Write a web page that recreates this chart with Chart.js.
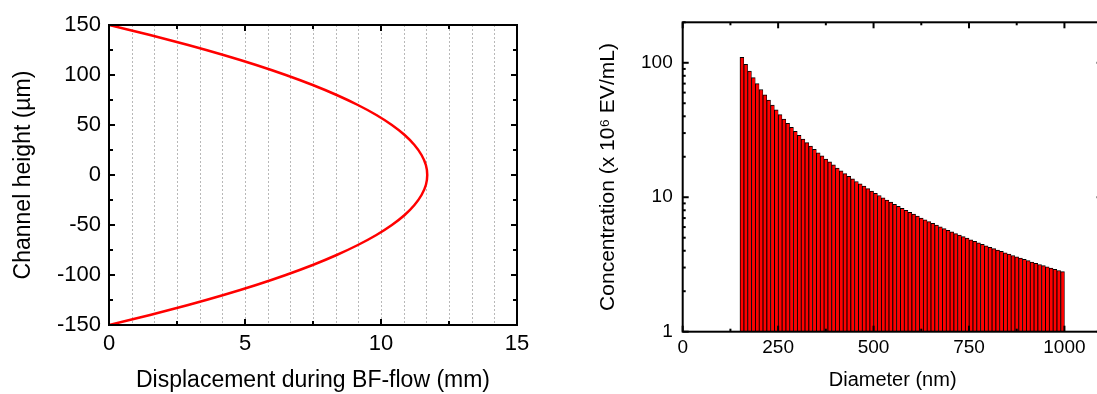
<!DOCTYPE html>
<html><head><meta charset="utf-8">
<script src="https://cdn.jsdelivr.net/npm/chart.js@4/dist/chart.umd.min.js"></script>
<style>
html,body{margin:0;padding:0;background:#fff;overflow:hidden;width:1097px;height:394px;position:relative;}
canvas{position:absolute;top:0;}
#c1{left:0}
#c2{left:560px}
</style></head><body>
<canvas id="c1" width="560" height="394"></canvas>
<canvas id="c2" width="560" height="394"></canvas>
<script>
// ---- Left chart data: flow profile ----
const channelHeight = [-150,-140,-130,-120,-110,-100,-90,-80,-70,-60,-50,-40,-30,-20,-10,0,10,20,30,40,50,60,70,80,90,100,110,120,130,140,150];
const displacement = [0,1.51,2.91,4.21,5.41,6.50,7.49,8.37,9.15,9.83,10.40,10.87,11.23,11.49,11.65,11.70,11.65,11.49,11.23,10.87,10.40,9.83,9.15,8.37,7.49,6.50,5.41,4.21,2.91,1.51,0];
const displacementTicks = [0,5,10,15];
const heightTicks = [-150,-100,-50,0,50,100,150];

// ---- Right chart data: size distribution ----
const diameterBins = [155,165,175,185,195,205,215,225,235,245,255,265,275,285,295,305,315,325,335,345,355,365,375,385,395,405,415,425,435,445,455,465,475,485,495,505,515,525,535,545,555,565,575,585,595,605,615,625,635,645,655,665,675,685,695,705,715,725,735,745,755,765,775,785,795,805,815,825,835,845,855,865,875,885,895,905,915,925,935,945,955,965,975,985,995];
const concentration = [110,97.2,86.6,77.6,69.9,63.3,57.7,52.7,48.4,44.6,
41.2,38.2,35.5,33.1,30.9,28.9,27.1,25.5,24.0,22.7,
21.4,20.3,19.2,18.3,17.4,16.5,15.7,15.0,14.3,13.7,
13.1,12.6,12.1,11.6,11.1,10.7,10.3,9.89,9.53,9.19,
8.86,8.56,8.27,7.99,7.73,7.48,7.24,7.01,6.79,6.59,
6.39,6.20,6.02,5.85,5.68,5.53,5.37,5.23,5.09,4.96,
4.83,4.70,4.58,4.47,4.36,4.25,4.15,4.05,3.96,3.86,
3.78,3.69,3.61,3.53,3.45,3.38,3.30,3.23,3.16,3.10,
3.04,2.97,2.91,2.85,2.80];
const diameterTicks = [0,250,500,750,1000];
const concentrationTicks = [1,10,100];

Chart.defaults.font.family = "'Liberation Sans', Arial, sans-serif";
Chart.defaults.color = '#000';

// Frame + inward ticks (Origin style)
const frameTicks = {
  id: 'frameTicks',
  beforeDatasetsDraw(chart, args, o) {
    if (!o.grid) return;
    const {ctx, chartArea: a, scales: {x}} = chart;
    ctx.save();
    ctx.strokeStyle = '#b8b8b8';
    ctx.lineWidth = 1;
    ctx.setLineDash([2, 2]);
    for (let i = 1; i < o.grid.count; i++) {
      const v = x.min + (x.max - x.min) * i / o.grid.count;
      const p = Math.round(x.getPixelForValue(v)) + 0.5;
      ctx.beginPath(); ctx.moveTo(p, a.top); ctx.lineTo(p, a.bottom); ctx.stroke();
    }
    ctx.restore();
  },
  afterDatasetsDraw(chart, args, o) {
    const {ctx, chartArea: a, scales: {x, y}} = chart;
    ctx.save();
    ctx.strokeStyle = '#000';
    ctx.lineWidth = o.lw;
    const line = (x1, y1, x2, y2) => { ctx.beginPath(); ctx.moveTo(x1, y1); ctx.lineTo(x2, y2); ctx.stroke(); };
    o.xTicks(x).forEach(([v, major]) => {
      const p = x.getPixelForValue(v);
      const L = major ? o.major : o.minor;
      line(p, a.bottom, p, a.bottom - L);
      line(p, a.top, p, a.top + L);
    });
    o.yTicks(y).forEach(([v, major]) => {
      const p = y.getPixelForValue(v);
      const L = major ? o.major : o.minor;
      line(a.left, p, a.left + L, p);
      line(a.right, p, a.right - L, p);
    });
    ctx.strokeRect(a.left, a.top, a.right - a.left, a.bottom - a.top);
    ctx.restore();
  }
};

// ---- Left chart ----
new Chart(document.getElementById('c1'), {
  type: 'scatter',
  data: {
    datasets: [{
      data: channelHeight.map((h, i) => ({x: displacement[i], y: h})),
      showLine: true,
      borderColor: '#ff0000',
      borderWidth: 2.5,
      pointRadius: 0,
      tension: 0.3,
      fill: false
    }]
  },
  plugins: [frameTicks],
  options: {
    responsive: false,
    animation: false,
    events: [],
    layout: {padding: {left: 0, right: 43, top: 25, bottom: 0}},
    plugins: {
      legend: {display: false},
      tooltip: {enabled: false},
      frameTicks: {
        lw: 2, major: 6, minor: 4,
        grid: {count: 18},
        xTicks: s => { const r = []; for (let v = s.min; v <= s.max + 1e-9; v += 2.5) r.push([v, Math.abs(v % 5) < 1e-9]); return r; },
        yTicks: s => { const r = []; for (let v = s.min; v <= s.max + 1e-9; v += 25) r.push([v, Math.abs(v % 50) < 1e-9]); return r; }
      }
    },
    scales: {
      x: {
        type: 'linear', min: 0, max: 15,
        afterBuildTicks: s => { s.ticks = displacementTicks.map(v => ({value: v})); },
        afterFit: s => { s.height = 69; },
        grid: {display: false, drawTicks: false},
        border: {display: false},
        ticks: {padding: 6, font: {size: 22}, maxRotation: 0, autoSkip: false, callback: v => String(v)},
        title: {display: true, text: 'Displacement during BF-flow (mm)', font: {size: 23}, padding: {top: 0, bottom: 0}}
      },
      y: {
        type: 'linear', min: -150, max: 150,
        afterBuildTicks: s => { s.ticks = heightTicks.map(v => ({value: v})); },
        afterFit: s => { s.width = 109; },
        grid: {display: false, drawTicks: false},
        border: {display: false},
        ticks: {padding: 8, font: {size: 22}, autoSkip: false, callback: v => String(v)},
        title: {display: true, text: 'Channel height (µm)', font: {size: 23}, padding: {top: 10, bottom: 0}}
      }
    }
  }
});

// ---- Right chart ----
new Chart(document.getElementById('c2'), {
  type: 'bar',
  data: {
    datasets: [{
      data: diameterBins.map((d, i) => ({x: d, y: concentration[i]})),
      backgroundColor: '#ff0000',
      borderColor: '#000000',
      borderWidth: {top: 1, left: 1, right: 0.6, bottom: 0},
      barPercentage: 1,
      categoryPercentage: 1
    }]
  },
  plugins: [frameTicks],
  options: {
    responsive: false,
    animation: false,
    events: [],
    layout: {padding: {left: 0, right: 17.4, top: 22.3, bottom: 0}},
    plugins: {
      legend: {display: false},
      tooltip: {enabled: false},
      frameTicks: {
        lw: 2, major: 6, minor: 3,
        xTicks: s => { const r = []; for (let v = 0; v <= s.max + 1e-9; v += 125) r.push([v, v % 250 === 0]); return r; },
        yTicks: s => { const r = []; [1, 10, 100].forEach(d => { for (let m = 1; m <= 9; m++) { const v = m * d; if (v <= s.max) r.push([v, m === 1]); } }); return r; }
      }
    },
    scales: {
      x: {
        type: 'linear', min: 0, max: 1100, offset: false,
        afterBuildTicks: s => { s.ticks = diameterTicks.map(v => ({value: v})); },
        afterFit: s => { s.height = 62.3; },
        grid: {display: false, drawTicks: false, offset: false},
        border: {display: false},
        ticks: {padding: 5, font: {size: 19}, maxRotation: 0, autoSkip: false, callback: v => String(v)},
        title: {display: true, text: 'Diameter (nm)', font: {size: 20}, padding: {top: 0, bottom: 2}}
      },
      y: {
        type: 'logarithmic', min: 1, max: 200,
        afterBuildTicks: s => { s.ticks = concentrationTicks.map(v => ({value: v})); },
        afterFit: s => { s.width = 122.7; },
        grid: {display: false, drawTicks: false},
        border: {display: false},
        ticks: {padding: 10, font: {size: 19}, autoSkip: false, callback: v => String(v)},
        title: {display: true, text: 'Concentration (x 10⁶ EV/mL)', font: {size: 21}, padding: {top: 36, bottom: 0}}
      }
    }
  }
});
</script>
</body></html>
